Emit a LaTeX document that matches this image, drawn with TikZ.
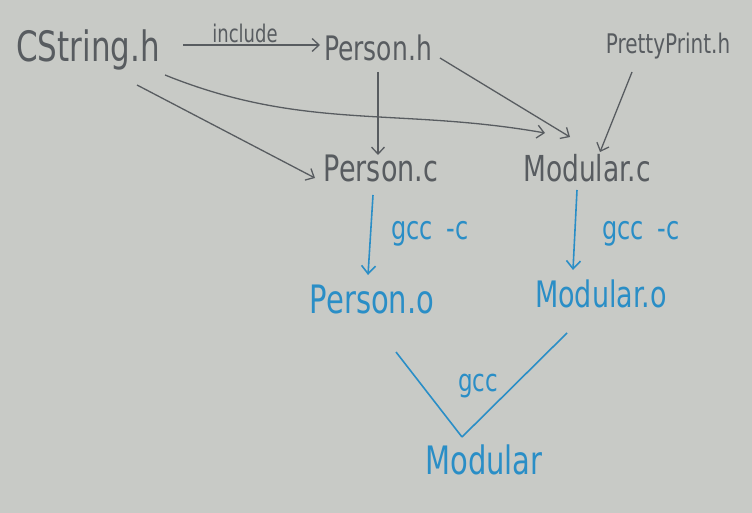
\documentclass[tikz,border=0pt]{standalone}
\usepackage{fontspec}
\setmainfont{DejaVu Sans}
\usetikzlibrary{arrows.meta,calc}
\definecolor{board}{RGB}{200,202,198}
\definecolor{ink}{RGB}{88,92,96}
\definecolor{blueink}{RGB}{42,142,198}
\newcommand{\hw}[1]{\scalebox{1}[1.35]{#1}}
\tikzset{
  fs/.style={font=\fontsize{#1}{#1}\selectfont},
  lbl/.style={inner sep=1pt, text=ink},
  bluelbl/.style={inner sep=1pt, text=blueink},
  dep/.style={draw=ink, line width=1.3pt, -{Straight Barb[length=7pt,width=13pt]}},
  comp/.style={draw=blueink, line width=1.6pt, -{Straight Barb[length=8pt,width=14pt]}},
  link/.style={draw=blueink, line width=1.6pt},
}
\begin{document}
\begin{tikzpicture}[x=1pt,y=-1pt]
\fill[board] (0,0) rectangle (752,513);
\useasboundingbox (0,0) rectangle (752,513);

\node[lbl, fs=31] (cs) at (88,50) {\hw{CString.h}};
\node[lbl, fs=25] (ph) at (378,48) {\hw{Person.h}};
\node[lbl, fs=20] (pp) at (668,46) {\hw{PrettyPrint.h}};
\node[lbl, fs=27] (pc) at (381,168) {\hw{Person.c}};
\node[lbl, fs=26.5] (mc) at (587,168) {\hw{Modular.c}};
\node[bluelbl, fs=29] (po) at (372,300) {\hw{Person.o}};
\node[bluelbl, fs=27] (mo) at (601,294) {\hw{Modular.o}};
\node[bluelbl, fs=29] (m) at (484,460) {\hw{Modular}};
\coordinate (v) at (462,437);

% include edges
\draw[dep] ($(cs)+(95,-5)$) -- ($(ph)+(-58,-3)$);
\node[lbl, fs=18] (inc) at (245,33) {\hw{include}};
\draw[dep] ($(cs)+(49,35)$) -- ($(pc)+(-66,10)$);
\draw[dep] ($(cs)+(77,25)$) to[out=-22,in=170] ($(mc)+(-42,-35)$);
\draw[dep] ($(ph)+(0,24)$) -- ($(pc)+(-3,-13)$);
\draw[dep] ($(ph)+(62,10)$) -- ($(mc)+(-17,-31)$);
\draw[dep] ($(pp)+(-36,26)$) -- ($(mc)+(13,-16)$);

% compile edges
\draw[comp] ($(pc)+(-8,27)$) -- ($(po)+(-4,-25)$);
\node[bluelbl, fs=24] (g1) at (430,234) {\hw{gcc\hspace{14pt}-c}};
\draw[comp] ($(mc)+(-10,22)$) -- ($(mo)+(-28,-24)$);
\node[bluelbl, fs=24] (g2) at (641,234) {\hw{gcc\hspace{14pt}-c}};

% link edges
\draw[link] ($(po)+(24,52)$) -- (v);
\draw[link] ($(mo)+(-34,39)$) -- (v);
\node[bluelbl, fs=23] (g3) at (478,386) {\hw{gcc}};
\end{tikzpicture}
\end{document}
